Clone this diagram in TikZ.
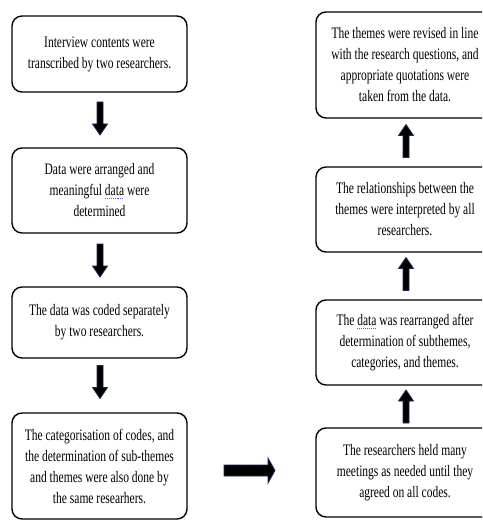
\documentclass[tikz,border=0pt]{standalone}
\usepackage{fontspec}
\setmainfont{Liberation Serif}[FakeStretch=0.72]
\definecolor{navy}{RGB}{30,40,90}
\definecolor{spellblue}{RGB}{90,90,230}
\newcommand\spellmark[1]{\setbox0\hbox{#1}\rlap{\raisebox{-3.2pt}{\textcolor{spellblue}{\hbox to \wd0{\xleaders\hbox{\rule{0.9pt}{0.9pt}\hspace{0.9pt}}\hfill}}}}\box0\relax}
\begin{document}
\begin{tikzpicture}[x=1pt,y=-1pt,
  box/.style={draw=black,line width=1.4pt,rounded corners=10pt,align=center,
    font=\fontsize{16}{21}\selectfont,inner sep=0pt},
  blk/.style={fill=black,draw=navy,line width=0.8pt,line join=miter},
  downarr/.pic={\path[blk] (-3,-16.5) -- (3,-16.5) -- (3,5.5) -- (7.5,5.5) -- (0,16.5) -- (-7.5,5.5) -- (-3,5.5) -- cycle;},
  uparr/.pic={\path[blk] (-3,16.5) -- (3,16.5) -- (3,-5.5) -- (7.5,-5.5) -- (0,-16.5) -- (-7.5,-5.5) -- (-3,-5.5) -- cycle;},
  rightarr/.pic={\path[blk] (-25.5,-5.5) -- (18.5,-5.5) -- (18.5,-12.5) -- (25.5,0) -- (18.5,12.5) -- (18.5,5.5) -- (-25.5,5.5) -- cycle;}
]
\useasboundingbox (0,0) rectangle (482,521);
\clip (0,0) rectangle (482,521);
% left column
\node[box,minimum width=175pt,minimum height=76pt] (l1) at (99.5,54) {Interview contents were\\transcribed by two researchers.};
\node[box,minimum width=175pt,minimum height=85pt] (l2) at (99.5,190.5) {Data were arranged and\\meaningful \spellmark{data} were\\determined};
\node[box,minimum width=175pt,minimum height=71pt] (l3) at (99.5,322.5) {The data was coded separately\\by two researchers.};
\node[box,minimum width=175pt,minimum height=106pt] (l4) at (99.5,466) {The categorisation of codes, and\\the determination of sub-themes\\and themes were also done by\\the same researhers.};
% right column
\node[box,minimum width=178pt,minimum height=106pt] (r1) at (405,65) {The themes were revised in line\\with the research questions, and\\appropriate quotations were\\taken from the data.};
\node[box,minimum width=178pt,minimum height=85pt] (r2) at (405,209.5) {The relationships between the\\themes were interpreted by all\\researchers.};
\node[box,minimum width=178pt,minimum height=85pt] (r3) at (405,342.5) {The \spellmark{data} was rearranged after\\determination of subthemes,\\categories, and themes.};
\node[box,minimum width=178pt,minimum height=89pt] (r4) at (405,472.5) {The researchers held many\\meetings as needed until they\\agreed on all codes.};
% arrows
\pic (a1) at (100,118.5) {downarr};
\pic (a2) at (100,260.5) {downarr};
\pic (a3) at (100,382) {downarr};
\pic (b1) at (406,141) {uparr};
\pic (b2) at (406,274) {uparr};
\pic (b3) at (406,406.5) {uparr};
\pic (h1) at (249.5,470.5) {rightarr};
\end{tikzpicture}
\end{document}
